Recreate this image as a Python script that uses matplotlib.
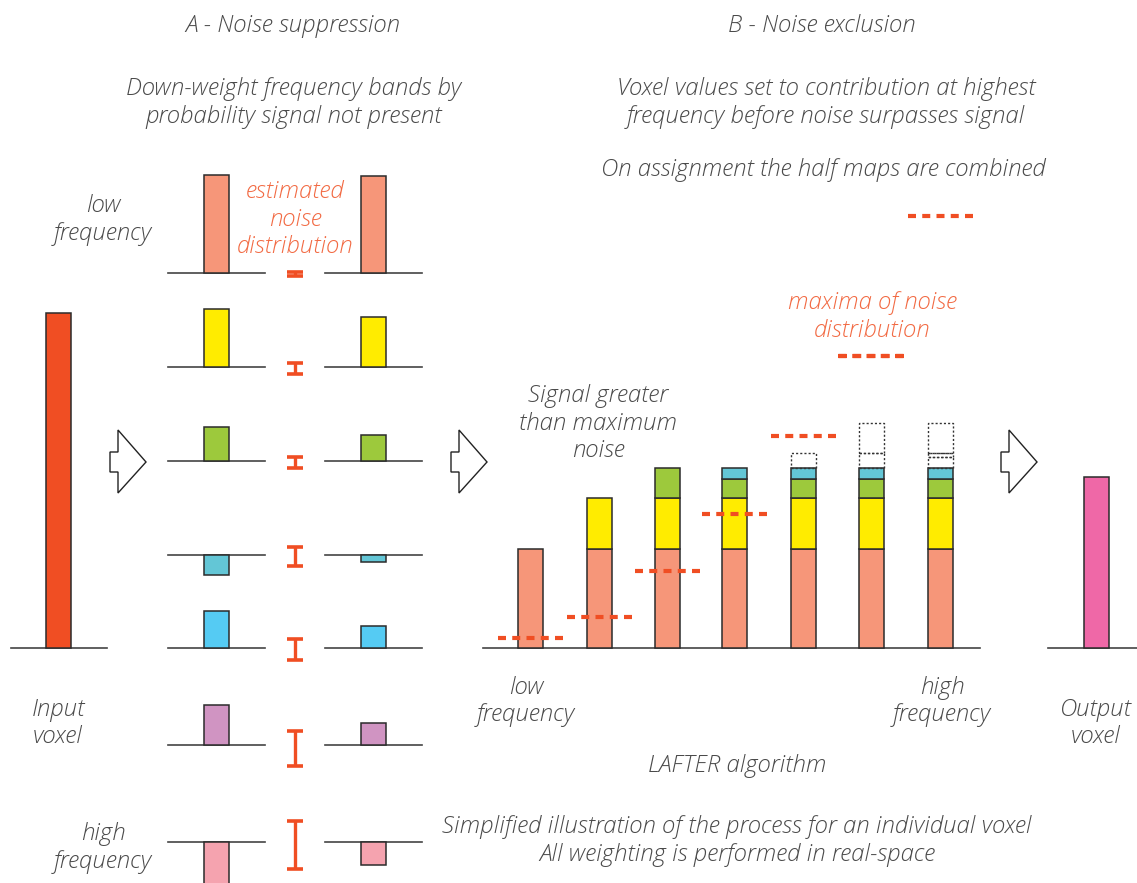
import matplotlib.pyplot as plt
from matplotlib.patches import Polygon

# ---- data ----
input_value = 335
output_value = 171

# panel A: one row per frequency band (low -> high)
band_colors = ['#F69679', '#FFEC00', '#9DC93C', '#63C6D6', '#55CBF3', '#D094C2', '#F5A3AF']
band_before = [98, 58, 34, -20, 37, 40, -50]
band_after = [97, 50, 26, -7, 22, 22, -23]
noise_spread = [2, 5.5, 5.5, 9.5, 10.5, 17.5, 24]

# panel B: cumulative stacks per frequency step
stack_salmon = [99, 99, 99, 99, 99, 99, 99]
stack_yellow = [0, 51, 51, 51, 51, 51, 51]
stack_green = [0, 0, 30, 19, 19, 19, 19]
stack_teal = [0, 0, 0, 11, 11, 11, 11]
excluded = [[], [], [], [], [15], [15, 30], [11, 4, 30]]
noise_max = [10, 31, 77, 134, 212, 292, 432]

# ---- layout (pixel space) ----
W, H = 1137, 883
row_base = [273, 367, 461, 555, 648, 745, 842]
x_left, x_right, x_noise = 216.5, 373.5, 295
base_b = 648
x_b = [530.5, 599.5, 667.5, 734.5, 803.5, 871.5, 940.5]
bw = 25

TXT = '#4a4a4a'
ORG = '#F26A43'
RED = '#F04E23'
EDGE = '#2b2b2b'
FONT = dict(family='Open Sans', style='italic', weight='light', fontsize=17.3)

fig = plt.figure(figsize=(W / 100, H / 100), dpi=100)
ax = fig.add_axes([0, 0, 1, 1])
ax.set_xlim(0, W)
ax.set_ylim(H, 0)
ax.axis('off')


def baseline(x0, x1, y):
    ax.plot([x0, x1], [y, y], color='#444444', lw=1.2, zorder=1)


def bar(x, v, base, color, **kw):
    ax.bar(x, -v, bottom=base, width=bw, color=color, edgecolor=EDGE,
           linewidth=1.1, zorder=2, **kw)


def arrow(x0, yc):
    pts = [(x0, yc - 10), (x0 + 8, yc - 10), (x0 + 8, yc - 32), (x0 + 36, yc),
           (x0 + 8, yc + 31), (x0 + 8, yc + 10), (x0, yc + 10)]
    ax.add_patch(Polygon(pts, closed=True, fill=False, edgecolor='#222222', lw=1.0))


def txt(x, y, s, color=TXT):
    ax.text(x, y + 1.5, s, ha='center', va='center', color=color, linespacing=1.22, **FONT)


# input voxel
baseline(11, 107, 648)
bar(58.5, input_value, 648, RED)

# panel A rows
for i, base in enumerate(row_base):
    baseline(168, 265, base)
    baseline(325, 422, base)
    bar(x_left, band_before[i], base, band_colors[i])
    bar(x_right, band_after[i], base, band_colors[i])
    ax.errorbar(x_noise, base + (3 if i >= 5 else 1), yerr=noise_spread[i], fmt='none',
                ecolor=RED, elinewidth=2.4, capsize=5.8, capthick=2.6, zorder=3)

# arrows
arrow(110, 462)
arrow(451, 462)
arrow(1001, 462)

# panel B stacks
baseline(483, 980, base_b)
for i, x in enumerate(x_b):
    bottom = base_b
    for vals, col in [(stack_salmon, band_colors[0]), (stack_yellow, band_colors[1]),
                      (stack_green, band_colors[2]), (stack_teal, band_colors[3])]:
        if vals[i] > 0:
            bar(x, vals[i], bottom, col)
            bottom -= vals[i]
    for h in excluded[i]:
        ax.bar(x, -h, bottom=bottom, width=bw, fill=False, edgecolor='#333333',
               linewidth=1.0, linestyle=(0, (1.5, 1.5)), zorder=2)
        bottom -= h
    ax.plot([x - 32.5, x + 32.5], [base_b - noise_max[i]] * 2, color=RED, lw=3,
            dashes=(1.92, 1.5), zorder=4)

# legend dash under "maxima of noise distribution"
ax.plot([838, 905], [356, 356], color=RED, lw=3, dashes=(1.92, 1.5))

# output voxel
baseline(1048, 1137, 648)
bar(1096.5, output_value, 648, '#EF68A7')

# texts
txt(293, 25, 'A - Noise suppression')
txt(294, 101.5, 'Down-weight frequency bands by\nprobability signal not present')
txt(822, 25, 'B - Noise exclusion')
txt(826, 101.5, 'Voxel values set to contribution at highest\nfrequency before noise surpasses signal')
txt(823, 168, 'On assignment the half maps are combined')
txt(103, 218.5, 'low\nfrequency')
txt(295, 218, 'estimated\nnoise\ndistribution', ORG)
txt(872, 315.5, 'maxima of noise\ndistribution', ORG)
txt(598, 422, 'Signal greater\nthan maximum\nnoise')
txt(526, 700, 'low\nfrequency')
txt(942, 700, 'high\nfrequency')
txt(58, 722, 'Input\nvoxel')
txt(1096, 722, 'Output\nvoxel')
txt(737, 765, 'LAFTER algorithm')
txt(103, 846.5, 'high\nfrequency')
txt(737, 839.5, 'Simplified illustration of the process for an individual voxel\n'
                'All weighting is performed in real-space')

fig.savefig('out.png', dpi=100)
